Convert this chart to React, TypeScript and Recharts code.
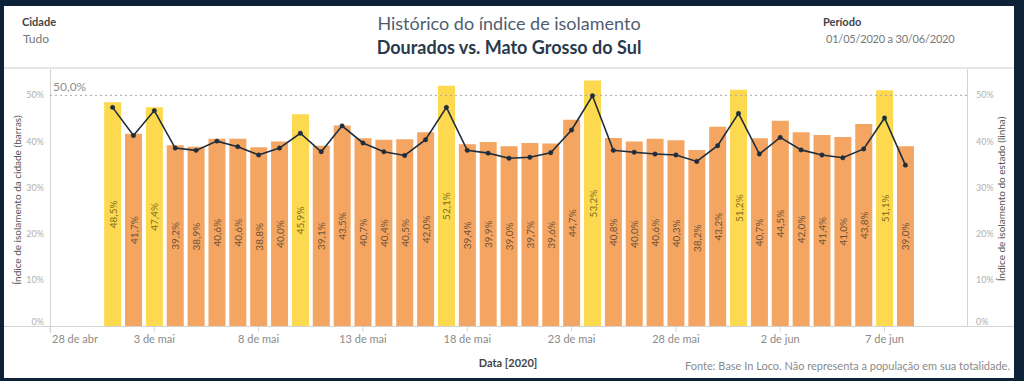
import React from "react";
import {
  ComposedChart,
  Bar,
  Line,
  Cell,
  XAxis,
  YAxis,
  CartesianGrid,
  ReferenceLine,
  LabelList,
} from "recharts";

const days = [
  "01/05", "02/05", "03/05", "04/05", "05/05", "06/05", "07/05", "08/05",
  "09/05", "10/05", "11/05", "12/05", "13/05", "14/05", "15/05", "16/05",
  "17/05", "18/05", "19/05", "20/05", "21/05", "22/05", "23/05", "24/05",
  "25/05", "26/05", "27/05", "28/05", "29/05", "30/05", "31/05", "01/06",
  "02/06", "03/06", "04/06", "05/06", "06/06", "07/06", "08/06",
];

const cityValues = [
  48.5, 41.7, 47.4, 39.2, 38.9, 40.6, 40.6, 38.8, 40.0, 45.9, 39.1, 43.5, 40.7,
  40.4, 40.5, 42.0, 52.1, 39.4, 39.9, 39.0, 39.7, 39.6, 44.7, 53.2, 40.8, 40.0,
  40.6, 40.3, 38.2, 43.2, 51.2, 40.7, 44.5, 42.0, 41.4, 41.0, 43.8, 51.1, 39.0,
];

const stateValues = [
  47.4, 41.3, 46.7, 38.6, 38.1, 40.1, 38.9, 37.1, 38.6, 41.8, 37.8, 43.4, 39.7,
  37.8, 37.0, 40.4, 47.4, 38.1, 37.5, 36.4, 36.6, 37.6, 42.5, 49.9, 38.1, 37.7,
  37.3, 37.1, 35.7, 39.1, 46.1, 37.3, 40.9, 38.2, 37.1, 36.5, 38.4, 45.1, 34.9,
];

// domingos e feriado (barras amarelas)
const highlightDays = ["01/05", "03/05", "10/05", "17/05", "24/05", "31/05", "07/06"];

const xTickLabels = [
  "28 de abr", "3 de mai", "8 de mai", "13 de mai", "18 de mai",
  "23 de mai", "28 de mai", "2 de jun", "7 de jun",
];
const yTicks = [0, 10, 20, 30, 40, 50];

const ORANGE = "#F4A562";
const YELLOW = "#FDD94F";
const NAVY = "#0d2236";

// dias desde 28/04/2020
const dayOffset = (d: string) => {
  const [dd, mm] = d.split("/").map(Number);
  return Math.round((Date.UTC(2020, mm - 1, dd) - Date.UTC(2020, 3, 28)) / 86400000);
};

const data = days.map((d, i) => ({
  x: dayOffset(d),
  city: cityValues[i],
  state: stateValues[i],
  hl: highlightDays.includes(d),
}));

const fmt = (v: number) => v.toFixed(1).replace(".", ",") + "%";
const FONT = "Lato, 'Noto Sans', sans-serif";

const XTick = (props: any) => {
  const { x, y, payload } = props;
  const idx = Math.round(payload.value / 5);
  const first = idx === 0;
  return (
    <text
      x={first ? x + 2 : x}
      y={y + 9}
      textAnchor={first ? "start" : "middle"}
      fontSize={11}
      fill="#8a8a8a"
      fontFamily={FONT}
    >
      {xTickLabels[idx]}
    </text>
  );
};

const YTick = (props: any) => {
  const { x, y, payload, textAnchor } = props;
  const dy = payload.value === 0 ? -5 : 0;
  return (
    <text
      x={x}
      y={y + dy + 3}
      textAnchor={textAnchor}
      fontSize={9}
      fill="#b0b0b0"
      fontFamily={FONT}
    >
      {payload.value}%
    </text>
  );
};

const BarLabel = (props: any) => {
  const { x, y, width, height, index } = props;
  const cx = x + width / 2;
  const cy = y + height / 2;
  const hl = data[index].hl;
  return (
    <text
      x={cx}
      y={cy}
      transform={`rotate(-90 ${cx} ${cy})`}
      textAnchor="middle"
      dominantBaseline="central"
      fontSize={10}
      fill={hl ? "#7d6d1c" : "#6e5236"}
      fontFamily={FONT}
    >
      {fmt(cityValues[index])}
    </text>
  );
};

export default function App() {
  return (
    <div
      style={{
        position: "absolute",
        left: 0,
        top: 0,
        width: 1024,
        height: 390,
        background: "#fff",
        fontFamily: FONT,
      }}
    >
      <div
        style={{
          position: "absolute",
          left: 0,
          top: 0,
          width: 1024,
          height: 381,
          background: NAVY,
        }}
      />
      <div
        style={{
          position: "absolute",
          left: 4,
          top: 6,
          width: 1010,
          height: 372,
          background: "#fff",
        }}
      />
      {/* header */}
      <div style={{ position: "absolute", left: 4, top: 67, width: 1010, height: 2, background: "#e6e6e6" }} />
      <div style={{ position: "absolute", left: 22, top: 15, fontSize: 11, fontWeight: 700, color: "#444" }}>Cidade</div>
      <div style={{ position: "absolute", left: 23, top: 31, fontSize: 12, color: "#777" }}>Tudo</div>
      <div style={{ position: "absolute", left: 823, top: 15, fontSize: 11, fontWeight: 700, color: "#444" }}>Período</div>
      <div style={{ position: "absolute", left: 826, top: 32, fontSize: 11, letterSpacing: -0.2, color: "#777" }}>
        01/05/2020 a 30/06/2020
      </div>
      <div
        style={{
          position: "absolute",
          left: 259,
          width: 500,
          top: 12,
          textAlign: "center",
          fontSize: 18,
          color: "#4f5e6e",
        }}
      >
        Histórico do índice de isolamento
      </div>
      <div
        style={{
          position: "absolute",
          left: 259,
          width: 500,
          top: 36,
          textAlign: "center",
          fontSize: 18,
          fontWeight: 700,
          color: "#2b3a4b",
        }}
      >
        Dourados vs. Mato Grosso do Sul
      </div>

      {/* pane borders */}
      <div style={{ position: "absolute", left: 50, top: 69, width: 1, height: 264, background: "#d4d4d4" }} />
      <div style={{ position: "absolute", left: 967, top: 69, width: 1, height: 258, background: "#d4d4d4" }} />

      <div style={{ position: "absolute", left: 0, top: 0 }}>
        <ComposedChart
          width={1024}
          height={390}
          data={data}
          margin={{ top: 69, right: 4, bottom: 23.5, left: 4 }}
        >
          <CartesianGrid
            horizontal
            vertical={false}
            stroke="#eeeeee"
            horizontalValues={[10, 20, 30, 40]}
          />
          <XAxis
            dataKey="x"
            type="number"
            domain={[0, 44]}
            ticks={[0, 5, 10, 15, 20, 25, 30, 35, 40]}
            tick={<XTick />}
            axisLine={false}
            tickLine={{ stroke: "#d4d4d4" }}
            tickSize={5}
            height={40}
            allowDataOverflow
          />
          <YAxis
            yAxisId="left"
            orientation="left"
            domain={[0, 55.7]}
            ticks={yTicks}
            tick={<YTick />}
            axisLine={false}
            tickLine={false}
            tickSize={0}
            tickMargin={6}
            width={46}
            allowDataOverflow
          />
          <YAxis
            yAxisId="right"
            orientation="right"
            domain={[0, 55.7]}
            ticks={yTicks}
            tick={<YTick />}
            axisLine={false}
            tickLine={false}
            tickSize={0}
            tickMargin={8}
            width={52}
            allowDataOverflow
          />
          <ReferenceLine
            yAxisId="left"
            y={50}
            stroke="#a8a8a8"
            strokeDasharray="2 3"
            label={{
              value: "50,0%",
              position: "insideTopLeft",
              fill: "#8f8f8f",
              fontSize: 12,
              fontFamily: FONT,
              offset: 3,
              dy: -16,
            }}
          />
          <Bar
            yAxisId="left"
            dataKey="city"
            barSize={17}
            isAnimationActive={false}
          >
            {data.map((d, i) => (
              <Cell key={i} fill={d.hl ? YELLOW : ORANGE} />
            ))}
            <LabelList dataKey="city" content={<BarLabel />} />
          </Bar>
          <Line
            yAxisId="right"
            dataKey="state"
            stroke="#1e2d3c"
            strokeWidth={1.6}
            dot={{ r: 2.2, fill: "#1e2d3c", stroke: "#1e2d3c", strokeWidth: 0.5 }}
            isAnimationActive={false}
          />
        </ComposedChart>
      </div>

      <div style={{ position: "absolute", left: 4, top: 326, width: 1010, height: 1, background: "#d4d4d4" }} />

      {/* axis titles */}
      <div
        style={{
          position: "absolute",
          left: 17,
          top: 200,
          transform: "translate(-50%, -50%) rotate(-90deg)",
          whiteSpace: "nowrap",
          fontSize: 10,
          color: "#555",
        }}
      >
        Índice de isolamento da cidade (barras)
      </div>
      <div
        style={{
          position: "absolute",
          left: 1001,
          top: 199,
          transform: "translate(-50%, -50%) rotate(-90deg)",
          whiteSpace: "nowrap",
          fontSize: 10,
          color: "#555",
        }}
      >
        Índice de isolamento do estado (linha)
      </div>

      {/* footer */}
      <div
        style={{
          position: "absolute",
          left: 408,
          width: 200,
          top: 356,
          textAlign: "center",
          fontSize: 11,
          fontWeight: 700,
          color: "#444",
        }}
      >
        Data [2020]
      </div>
      <div
        style={{
          position: "absolute",
          right: 14,
          top: 359,
          fontSize: 11,
          color: "#8a8a8a",
          whiteSpace: "nowrap",
        }}
      >
        Fonte: Base In Loco. Não representa a população em sua totalidade.
      </div>
    </div>
  );
}
